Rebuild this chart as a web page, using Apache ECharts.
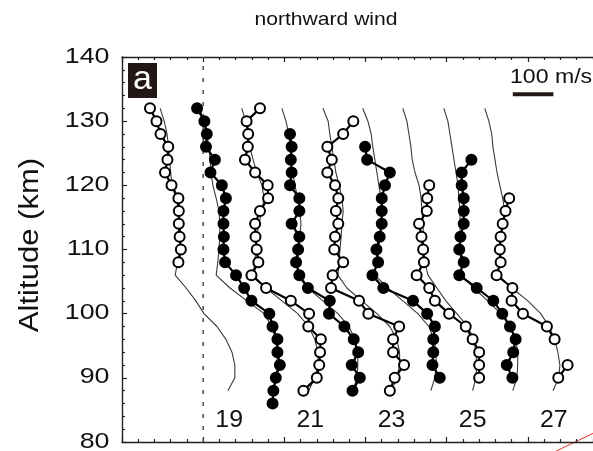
<!DOCTYPE html>
<html>
<head>
<meta charset="utf-8">
<script src="https://cdn.jsdelivr.net/npm/echarts@6/dist/echarts.min.js"></script>
<style>
  html, body { margin: 0; padding: 0; background: #fff; }
  #chart { width: 593px; height: 451px; }
</style>
</head>
<body>
<div id="chart"></div>
<script>
// Local time (h) of each wind profile; each profile is drawn offset by its hour,
// with 100 m/s of wind equal to one hour on the horizontal axis.
const hours = [18, 19, 20, 21, 22, 23, 24, 25, 26];
const metersPerSecondPerHour = 100;

// Measured northward wind (m/s), every 2 km downward from the top altitude.
const obsTop = [132, 132, 132, 128, 130, 126, 120, 124, 118];
const obs18 = [-131, -115, -105, -86, -88, -94, -78, -61, -60, -60, -58, -55, -61];
const obs19 = [-115, -97, -91, -93, -71, -82, -54, -44, -50, -50, -49, -50, -46, -19, 1, 19, 63, 71, 83, 83, 89, 79, 73, 71];
const obs20 = [-60, -93, -89, -90, -97, -72, -41, -40, -60, -72, -71, -68, -64, -81, -45, 16, 61, 59, 90, 88, 86, 80, 47];
const obs21 = [-86, -82, -84, -82, -86, -63, -63, -82, -63, -66, -71, -63, -42, 12, 10, 48, 71, 82, 66, 86, 68];
const obs22 = [-30, -55, -94, -83, -94, -75, -67, -73, -67, -75, -77, -55, -81, -85, -16, 7, 83, 68, 68, 95, 72, 60];
const obs23 = [-101, -96, -40, -52, -60, -60, -60, -65, -73, -69, -83, -56, 17, 52, 71, 67, 67, 65, 83];
const obs24 = [-43, -48, -49, -68, -62, -58, -56, -74, -43, -29, 6, 47, 64, 80, 80, 80];
const obs25 = [-39, -63, -63, -58, -58, -58, -66, -69, -58, -69, -26, 15, 37, 56, 70, 64, 48, 62];
const obs26 = [-46, -55, -62, -67, -69, -67, -77, -38, -40, -12, 47, 66, null, 98, 75];

// Model northward wind (m/s), 132 km down to 88 km every 2 km.
const modelTop = 132;
const mod18 = [-106, -96, -89, -85, -83, -80, -77, -67, -60, -56, -56, -57, -63, -69, -42, -18, 2, 34, 56, 71, 78, 78, 61];
const mod19 = [-108, -98, -91, -86, -83, -81, -76, -68, -61, -59, -59, -61, -64, -68, -34, 8, 50, 69, 79, 82, 82, 79, 72];
const mod20 = [-105, -95, -90, -85, -77, -68, -55, -50, -55, -63, -68, -70, -73, -77, -45, -6, 33, 60, 75, 83, 83, 75, 60];
const mod21 = [-106, -96, -89, -86, -84, -79, -74, -67, -62, -59, -62, -64, -67, -69, -42, -5, 32, 59, 74, 81, 81, 79, 69];
const mod22 = [-105, -92, -88, -83, -78, -73, -65, -58, -55, -58, -60, -63, -65, -68, -46, -9, 28, 60, 77, 84, 84, 77, 65];
const mod23 = [-107, -94, -86, -82, -77, -72, -67, -62, -60, -62, -65, -67, -72, -77, -45, -8, 29, 56, 69, 74, 74, 71, 61];
const mod24 = [-108, -98, -93, -88, -85, -78, -68, -63, -61, -58, -58, -56, -54, -46, -24, -2, 25, 52, 67, 72, 74, 72, 64];
const mod25 = [-107, -97, -92, -87, -82, -77, -72, -70, -67, -67, -67, -67, -65, -63, -33, 1, 33, 56, 70, 75, 75, 73, 63];
const mod26 = [-106, -96, -89, -86, -81, -76, -69, -62, -57, -62, -67, -69, -71, -74, -39, 0, 32, 52, 66, 74, 79, 76, 62];

// Hour labels written near the bottom of the panel, and altitude tick labels.
const hourLabels = [19, 21, 23, 25, 27];
const yTicks = [80, 90, 100, 110, 120, 130, 140];

const obsProfiles = [obs18, obs19, obs20, obs21, obs22, obs23, obs24, obs25, obs26];
const modelProfiles = [mod18, mod19, mod20, mod21, mod22, mod23, mod24, mod25, mod26];
const altStep = 2;
const xMin = 16, xMax = 28;
const FONT = '"Liberation Sans", Arial, sans-serif';

function toPoints(hour, top, winds) {
  return winds.map((w, i) => {
    const alt = top - altStep * i;
    return w == null ? [hour, '-'] : [hour + w / metersPerSecondPerHour, alt];
  });
}

const series = [];

// zero-wind reference of the first profile
series.push({
  type: 'line', silent: true, symbol: 'none', z: 1,
  data: [[hours[0], yTicks[0]], [hours[0], yTicks[yTicks.length - 1]]],
  lineStyle: { color: '#555', width: 1.6, type: [4, 8] }
});

modelProfiles.forEach((m, k) => {
  series.push({
    type: 'line', silent: true, symbol: 'none', z: 2,
    data: toPoints(hours[k], modelTop, m),
    lineStyle: { color: '#3a3a3a', width: 1.1 }
  });
});

obsProfiles.forEach((o, k) => {
  const filled = k % 2 === 1;
  series.push({
    type: 'line', silent: true, z: 3,
    symbol: 'circle', symbolSize: 10, showAllSymbol: true,
    connectNulls: false,
    data: toPoints(hours[k], obsTop[k], o),
    lineStyle: { color: '#000', width: 2.2 },
    itemStyle: { color: filled ? '#000' : '#fff', borderColor: '#000', borderWidth: 2 }
  });
});

// hour labels, slightly widened text
series.push({
  type: 'custom', silent: true, z: 4, clip: false,
  data: hourLabels.map(h => [h - 0.36, 83.4, h]),
  renderItem: (params, api) => {
    const p = api.coord([api.value(0), api.value(1)]);
    return {
      type: 'text', x: p[0], y: p[1], scaleX: 1.08,
      style: {
        text: String(api.value(2)), fill: '#111', align: 'center', verticalAlign: 'middle',
        font: '23px ' + FONT
      }
    };
  }
});

// altitude tick labels, drawn at the axis values
series.push({
  type: 'custom', silent: true, z: 4, clip: false,
  data: yTicks.map(v => [xMin, v]),
  renderItem: (params, api) => {
    const p = api.coord([api.value(0), api.value(1)]);
    return {
      type: 'text', x: p[0] - 12.5, y: p[1] - 0.5, scaleX: 1.22,
      style: {
        text: String(api.value(1)), fill: '#111', align: 'right', verticalAlign: 'middle',
        font: '22px ' + FONT
      }
    };
  }
});

// 100 m/s scale bar
const barStart = 25.63, barAlt = 134.2;
series.push({
  type: 'line', silent: true, symbol: 'none', z: 4,
  data: [[barStart, barAlt], [barStart + 1, barAlt]],
  lineStyle: { color: '#231815', width: 4, cap: 'butt' }
});

const axisStyle = { lineStyle: { color: '#222', width: 1.4 } };
const tickStyle = { color: '#222', width: 1.2 };
const xCommon = {
  type: 'value', min: xMin, max: xMax, interval: 2,
  axisLine: axisStyle,
  axisTick: { show: true, inside: true, length: 5, lineStyle: tickStyle },
  minorTick: { show: true, splitNumber: 5, length: 3, lineStyle: tickStyle },
  axisLabel: { show: false },
  splitLine: { show: false }
};

const chart = echarts.init(document.getElementById('chart'), null, { renderer: 'canvas' });
chart.setOption({
  animation: false,
  backgroundColor: '#fff',
  // the panel continues past the right edge of the page
  grid: { left: 122, top: 57, bottom: 9, right: -16, outerBoundsMode: 'none', containLabel: false },
  xAxis: [
    Object.assign({ position: 'bottom' }, xCommon),
    Object.assign({ position: 'top' }, xCommon)
  ],
  yAxis: {
    type: 'value', min: 80, max: 140, interval: 10,
    axisLine: axisStyle,
    axisTick: { show: true, inside: true, length: 5, lineStyle: tickStyle },
    minorTick: { show: true, splitNumber: 5, length: 3, lineStyle: tickStyle },
    axisLabel: { show: false },
    splitLine: { show: false }
  },
  graphic: [
    {
      type: 'text', x: 326, y: 20, scaleX: 1.11,
      style: {
        text: 'northward wind', fill: '#111', align: 'center', verticalAlign: 'middle',
        font: '19px ' + FONT
      }
    },
    {
      type: 'text', x: 31, y: 245, rotation: Math.PI / 2, scaleX: 1.15,
      style: {
        text: 'Altitude (km)', fill: '#111', align: 'center', verticalAlign: 'middle',
        font: '27px ' + FONT
      }
    },
    {
      type: 'rect', shape: { x: 128, y: 63, width: 29, height: 35 },
      style: { fill: '#231815' }
    },
    {
      type: 'text', x: 142.5, y: 80,
      style: {
        text: 'a', fill: '#fff', align: 'center', verticalAlign: 'middle',
        font: '34px ' + FONT
      }
    },
    {
      type: 'text', x: 510, y: 77, scaleX: 1.1,
      style: {
        text: '100 m/s', fill: '#111', align: 'left', verticalAlign: 'middle',
        font: '21px ' + FONT
      }
    },
    {
      type: 'line', shape: { x1: 548, y1: 455, x2: 600, y2: 430 },
      style: { stroke: '#f03030', lineWidth: 1 }
    }
  ],
  series: series
});
</script>
</body>
</html>
